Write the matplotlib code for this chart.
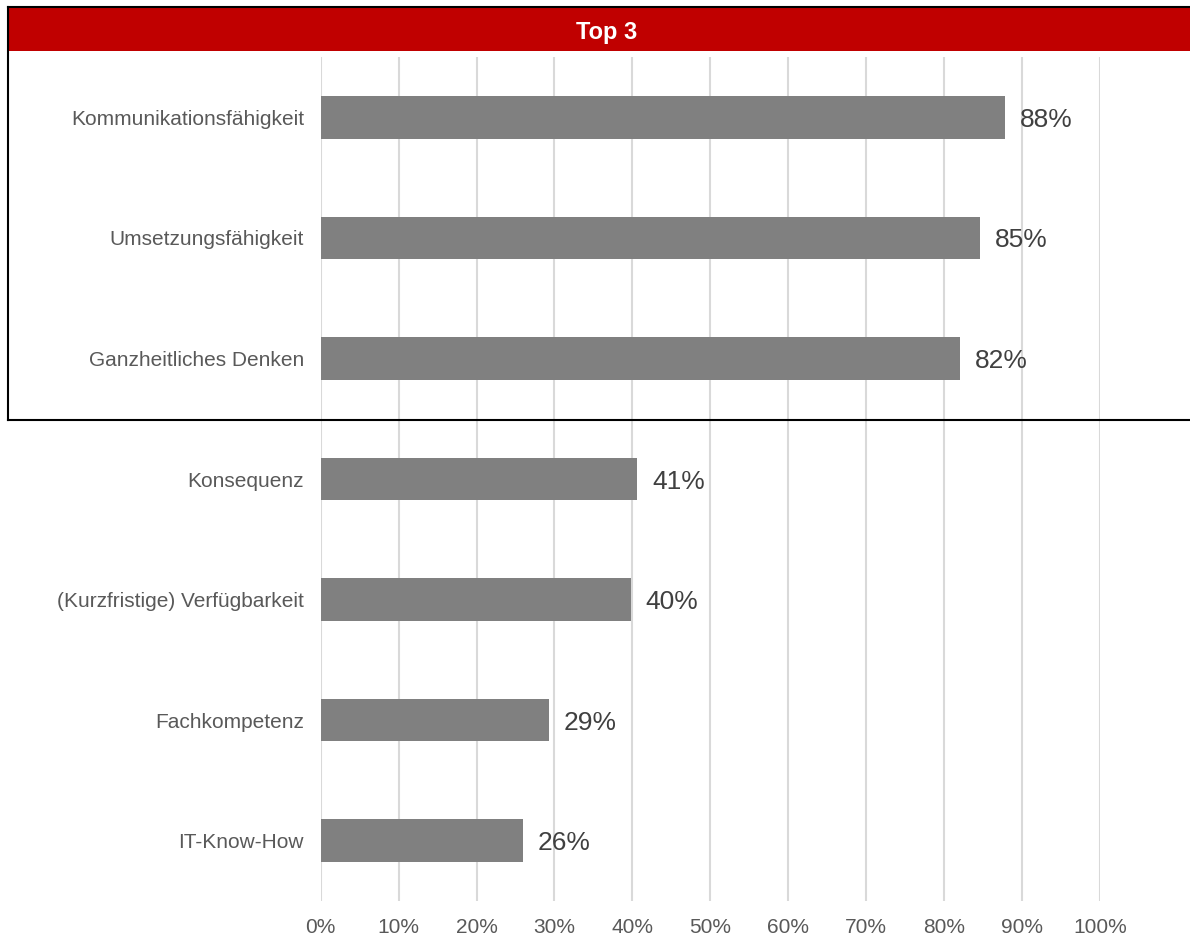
import matplotlib
matplotlib.use('Agg')
from matplotlib import pyplot
from matplotlib.patches import Rectangle
from matplotlib.lines import Line2D

# Daten
kategorien = ['Kommunikationsfähigkeit', 'Umsetzungsfähigkeit', 'Ganzheitliches Denken',
              'Konsequenz', '(Kurzfristige) Verfügbarkeit', 'Fachkompetenz', 'IT-Know-How']
werte = [87.8, 84.6, 82.0, 40.6, 39.8, 29.3, 25.9]
wert_labels = ['88%', '85%', '82%', '41%', '40%', '29%', '26%']
xticks = [0, 10, 20, 30, 40, 50, 60, 70, 80, 90, 100]
xtick_labels = [str(t) + '%' for t in xticks]
titel = 'Top 3'

pyplot.rcParams['font.family'] = ['Liberation Sans', 'DejaVu Sans']

breite_px, hoehe_px = 1190, 936
fig = pyplot.figure(figsize=(breite_px/100, hoehe_px/100), dpi=100)

def fx(px):
   return px/breite_px

def fy(py):
   return 1.0 - py/hoehe_px

# Achse
ax = fig.add_axes([fx(320.7), fy(901), fx(1100) - fx(320.7), fy(57) - fy(901)])
pos = list(range(len(kategorien)))
ax.barh(pos, werte, height=0.354, color='#808080', zorder=2)
for p, w, lab in zip(pos, werte, wert_labels):
   ax.text(w + 1.9, p, lab, va='center_baseline', ha='left', fontsize=19, color='#404040')

ax.set_xlim(0, 100)
ax.set_ylim(len(kategorien) - 0.5, -0.5)
ax.set_yticks(pos)
ax.set_yticklabels(kategorien, fontsize=15, color='#595959')
ax.set_xticks(xticks)
ax.set_xticklabels(xtick_labels, fontsize=15, color='#595959')
ax.tick_params(axis='both', length=0)
ax.tick_params(axis='y', pad=12)
ax.tick_params(axis='x', pad=12)
ax.grid(axis='x', color='#d9d9d9', linewidth=1.5, zorder=0)
ax.set_axisbelow(True)
for s in ax.spines.values():
   s.set_visible(False)

# Top-3-Rahmen mit rotem Kopf
fig.add_artist(Rectangle((fx(8), fy(51)), fx(1200) - fx(8), fy(7) - fy(51),
                         transform=fig.transFigure, facecolor='#c00000', edgecolor='none'))
fig.add_artist(Line2D([fx(8), fx(1200)], [fy(6.5), fy(6.5)], transform=fig.transFigure,
                      color='black', linewidth=1.5))
fig.add_artist(Line2D([fx(8), fx(8)], [fy(6.5), fy(420)], transform=fig.transFigure,
                      color='black', linewidth=1.5))
fig.add_artist(Line2D([fx(8), fx(1200)], [fy(420), fy(420)], transform=fig.transFigure,
                      color='black', linewidth=1.5))
fig.text(fx(607), fy(30), titel, ha='center', va='center_baseline', fontsize=17,
         fontweight='bold', color='white')

fig.savefig('out.png', dpi=100)
